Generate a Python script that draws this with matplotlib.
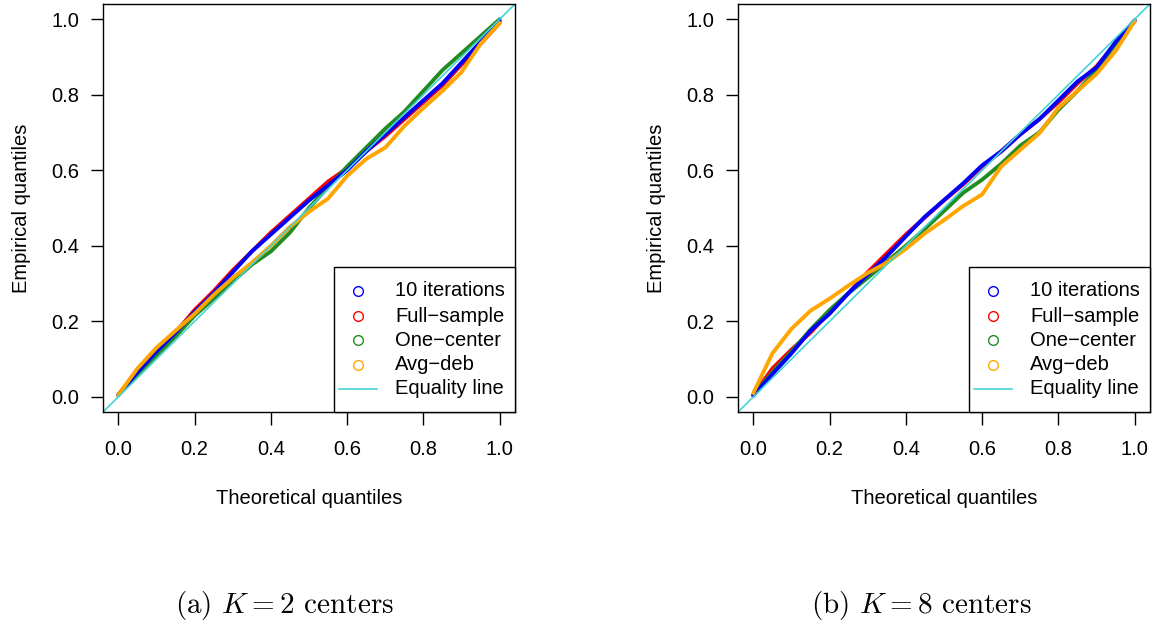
import matplotlib
matplotlib.use('Agg')
import matplotlib.pyplot as plt
from matplotlib.patches import Rectangle

plt.rcParams['font.family'] = ['Liberation Sans', 'DejaVu Sans']
plt.rcParams['mathtext.fontset'] = 'cm'

# theoretical quantiles (common grid) and empirical quantiles
theo = [0.0, 0.05, 0.10, 0.15, 0.20, 0.25, 0.30, 0.35, 0.40, 0.45, 0.50,
        0.55, 0.60, 0.65, 0.70, 0.75, 0.80, 0.85, 0.90, 0.95, 1.0]

# (a) K = 2 centers
blue_a = [0.005, 0.065, 0.12, 0.17, 0.225, 0.275, 0.33, 0.385, 0.43, 0.475, 0.52,
          0.56, 0.60, 0.65, 0.695, 0.74, 0.785, 0.83, 0.885, 0.94, 0.995]
red_a = [0.005, 0.07, 0.125, 0.17, 0.23, 0.28, 0.335, 0.385, 0.435, 0.48, 0.525,
         0.57, 0.605, 0.65, 0.69, 0.735, 0.78, 0.825, 0.88, 0.935, 0.99]
green_a = [0.005, 0.06, 0.11, 0.16, 0.215, 0.26, 0.305, 0.35, 0.385, 0.435, 0.50,
           0.555, 0.61, 0.66, 0.71, 0.755, 0.81, 0.865, 0.91, 0.955, 1.0]
orange_a = [0.005, 0.075, 0.13, 0.175, 0.22, 0.27, 0.315, 0.355, 0.40, 0.45, 0.49,
            0.525, 0.585, 0.63, 0.66, 0.717, 0.765, 0.81, 0.86, 0.935, 0.99]

# (b) K = 8 centers
blue_b = [0.003, 0.06, 0.115, 0.175, 0.22, 0.275, 0.324, 0.372, 0.425, 0.477, 0.521,
          0.565, 0.613, 0.65, 0.695, 0.735, 0.785, 0.835, 0.872, 0.94, 0.997]
red_b = [0.005, 0.075, 0.125, 0.17, 0.225, 0.275, 0.33, 0.38, 0.43, 0.475, 0.52,
         0.562, 0.61, 0.65, 0.695, 0.735, 0.78, 0.83, 0.875, 0.935, 0.995]
green_b = [0.005, 0.065, 0.12, 0.178, 0.23, 0.275, 0.315, 0.358, 0.40, 0.445, 0.492,
           0.54, 0.575, 0.617, 0.665, 0.70, 0.76, 0.81, 0.865, 0.935, 0.995]
orange_b = [0.01, 0.115, 0.18, 0.228, 0.26, 0.295, 0.328, 0.355, 0.392, 0.433, 0.468,
            0.505, 0.536, 0.61, 0.654, 0.698, 0.765, 0.81, 0.855, 0.916, 0.995]

labels = ['10 iterations', 'Full\u2212sample', 'One\u2212center', 'Avg\u2212deb']
colors = ['#0000FF', '#FF0000', '#228B22', '#FFA500']
eq_color = '#45D3D6'
ticks = [0.0, 0.2, 0.4, 0.6, 0.8, 1.0]
captions = ['(a) $K = 2$ centers', '(b) $K = 8$ centers']

fig = plt.figure(figsize=(11.54, 6.25), dpi=100)
W, H = 1154, 625
AW, AH = 412, 408   # axes size in px


def qq_panel(left_px, series, caption, cap_x):
    ax = fig.add_axes([left_px / W, 1 - 412 / H, AW / W, AH / H])
    # drawing order: red, green, blue, orange
    for i in [1, 2, 0, 3]:
        ax.plot(theo, series[i], color=colors[i], lw=2.8, solid_capstyle='round',
                solid_joinstyle='round')
    ax.plot([-0.04, 1.04], [-0.04, 1.04], color=eq_color, lw=1.2)
    ax.set_xlim(-0.04, 1.04)
    ax.set_ylim(-0.04, 1.04)
    ax.set_xticks(ticks)
    ax.set_yticks(ticks)
    ax.set_xticklabels(['%.1f' % t for t in ticks])
    ax.set_yticklabels(['%.1f' % t for t in ticks])
    ax.tick_params(direction='out', length=9, width=1.0, labelsize=14.5, pad=11)
    ax.tick_params(axis='y', pad=8)
    for s in ax.spines.values():
        s.set_linewidth(1.0)
    ax.set_xlabel('Theoretical quantiles', fontsize=14.5, labelpad=22)
    ax.set_ylabel('Empirical quantiles', fontsize=14.5, labelpad=15)

    # R-style legend box in the lower right corner
    ax.add_patch(Rectangle((231 / AW, 0), 1 - 231 / AW, 145 / AH, transform=ax.transAxes,
                           facecolor='white', edgecolor='black', lw=1.0, zorder=5,
                           clip_on=False))
    rows = [121, 96, 72, 47, 23]
    for k, lab in enumerate(labels):
        ax.plot([255 / AW], [rows[k] / AH], transform=ax.transAxes, ls='none',
                marker='o', markersize=7, mfc='none', mec=colors[k], mew=1.0,
                zorder=6, clip_on=False)
        ax.text(292 / AW, rows[k] / AH, lab, transform=ax.transAxes, fontsize=14.5,
                va='center', ha='left', zorder=6)
    ax.plot([236 / AW, 274 / AW], [rows[4] / AH] * 2, transform=ax.transAxes,
            color=eq_color, lw=1.2, zorder=6, clip_on=False)
    ax.text(292 / AW, rows[4] / AH, 'Equality line', transform=ax.transAxes,
            fontsize=14.5, va='center', ha='left', zorder=6)

    fig.text(cap_x / W, 1 - 605 / H, caption, ha='center', va='center',
             fontsize=21, family='cmr10')
    return ax


qq_panel(103, [blue_a, red_a, green_a, orange_a], captions[0], 285)
qq_panel(738, [blue_b, red_b, green_b, orange_b], captions[1], 921)

fig.savefig('out.png', dpi=100)
